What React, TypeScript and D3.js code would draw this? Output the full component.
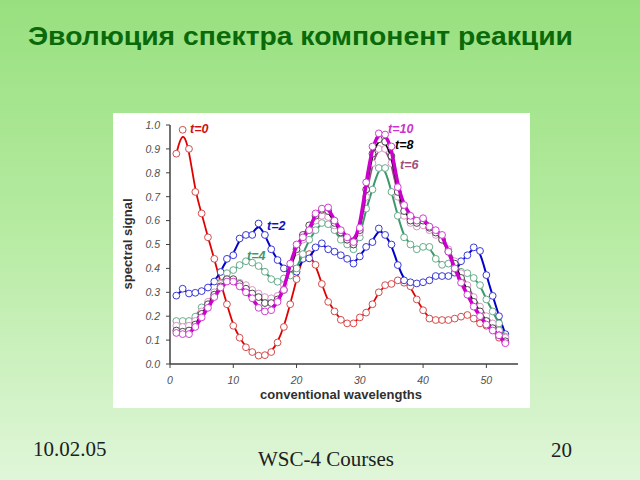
import React from "react";
import * as d3 from "d3";

const TITLE = "Эволюция спектра компонент реакции";
const FOOT_DATE = "10.02.05";
const FOOT_MID = "WSC-4 Courses";
const FOOT_PAGE = "20";
const X_LABEL = "conventional wavelengths";
const Y_LABEL = "spectral signal";

const wavelengths = d3.range(1, 54);
const yTicks = [0, 0.1, 0.2, 0.3, 0.4, 0.5, 0.6, 0.7, 0.8, 0.9, 1.0];
const xTicks = [0, 10, 20, 30, 40, 50];

const t0 = [0.88, 0.98, 0.90, 0.72, 0.63, 0.53, 0.44, 0.34, 0.25, 0.16, 0.11, 0.07, 0.05, 0.035, 0.037, 0.05, 0.09, 0.155, 0.25, 0.355, 0.45, 0.46, 0.415, 0.335, 0.26, 0.22, 0.185, 0.17, 0.17, 0.195, 0.215, 0.25, 0.30, 0.33, 0.335, 0.35, 0.34, 0.325, 0.27, 0.225, 0.19, 0.184, 0.184, 0.184, 0.19, 0.198, 0.205, 0.19, 0.17, 0.16, 0.145, 0.11, 0.09];
const t2 = [0.286, 0.315, 0.295, 0.298, 0.305, 0.32, 0.345, 0.385, 0.44, 0.455, 0.525, 0.54, 0.54, 0.588, 0.54, 0.48, 0.435, 0.40, 0.375, 0.386, 0.44, 0.442, 0.488, 0.505, 0.48, 0.47, 0.455, 0.44, 0.42, 0.45, 0.49, 0.51, 0.567, 0.54, 0.50, 0.414, 0.35, 0.342, 0.337, 0.342, 0.35, 0.368, 0.368, 0.368, 0.382, 0.43, 0.455, 0.488, 0.473, 0.372, 0.285, 0.20, 0.125];
const t4 = [0.18, 0.18, 0.18, 0.198, 0.237, 0.254, 0.29, 0.338, 0.38, 0.393, 0.414, 0.43, 0.424, 0.41, 0.386, 0.355, 0.344, 0.358, 0.37, 0.40, 0.46, 0.52, 0.56, 0.59, 0.585, 0.56, 0.52, 0.50, 0.48, 0.53, 0.65, 0.73, 0.82, 0.82, 0.72, 0.62, 0.53, 0.50, 0.48, 0.49, 0.49, 0.44, 0.415, 0.42, 0.40, 0.386, 0.38, 0.36, 0.33, 0.27, 0.22, 0.17, 0.114];
const t6 = [0.16, 0.155, 0.16, 0.18, 0.22, 0.26, 0.30, 0.335, 0.35, 0.35, 0.34, 0.33, 0.31, 0.295, 0.28, 0.275, 0.285, 0.33, 0.40, 0.47, 0.52, 0.56, 0.60, 0.62, 0.615, 0.58, 0.55, 0.52, 0.50, 0.55, 0.70, 0.84, 0.90, 0.90, 0.84, 0.70, 0.62, 0.59, 0.575, 0.58, 0.56, 0.54, 0.52, 0.48, 0.43, 0.38, 0.33, 0.28, 0.24, 0.20, 0.17, 0.14, 0.11];
const t8 = [0.14, 0.135, 0.14, 0.165, 0.21, 0.25, 0.29, 0.325, 0.355, 0.355, 0.335, 0.315, 0.295, 0.28, 0.255, 0.255, 0.27, 0.31, 0.40, 0.48, 0.54, 0.58, 0.62, 0.645, 0.64, 0.59, 0.55, 0.52, 0.50, 0.56, 0.73, 0.88, 0.94, 0.93, 0.87, 0.72, 0.64, 0.60, 0.59, 0.60, 0.57, 0.55, 0.52, 0.47, 0.42, 0.36, 0.31, 0.26, 0.22, 0.18, 0.15, 0.12, 0.095];
const t10 = [0.13, 0.125, 0.125, 0.155, 0.195, 0.235, 0.28, 0.32, 0.345, 0.345, 0.325, 0.30, 0.275, 0.235, 0.22, 0.225, 0.26, 0.31, 0.42, 0.50, 0.53, 0.56, 0.63, 0.65, 0.655, 0.60, 0.56, 0.53, 0.51, 0.57, 0.76, 0.91, 0.965, 0.96, 0.91, 0.74, 0.665, 0.62, 0.60, 0.61, 0.575, 0.56, 0.54, 0.47, 0.40, 0.34, 0.29, 0.24, 0.20, 0.165, 0.14, 0.12, 0.087];

const seriesNames = ["t=0", "t=2", "t=4", "t=6", "t=8", "t=10"];
const seriesValues = [t0, t2, t4, t6, t8, t10];

const styles = [
  { line: "#e00000", width: 1.8, dot: "#d44c4c", label: "#d01010", lx: 190, ly: 133 },
  { line: "#0000c8", width: 2, dot: "#3a3ad6", label: "#1010c0", lx: 267, ly: 230 },
  { line: "#3a9a6c", width: 2, dot: "#68ad8c", label: "#3a9a6c", lx: 247, ly: 260 },
  { line: "#9a4a80", width: 1.6, dot: "#dc94c6", label: "#a0507a", lx: 400, ly: 169 },
  { line: "#000000", width: 1.6, dot: "#4a4a4a", label: "#000000", lx: 395, ly: 149 },
  { line: "#cc00cc", width: 3.5, dot: "#d040d0", label: "#cc33cc", lx: 388, ly: 133 },
];

export default function App() {
  const x = d3.scaleLinear().domain([0, 55]).range([170, 518]);
  const y = d3.scaleLinear().domain([0, 1]).range([364, 125]);
  const line = d3
    .line<number>()
    .x((_, i) => x(wavelengths[i]))
    .y((d) => y(d))
    .curve(d3.curveBasis);

  const font = "'Liberation Sans', Arial, sans-serif";
  const serif = "'Liberation Serif', 'Times New Roman', serif";

  return (
    <svg
      width={640}
      height={480}
      style={{ position: "absolute", left: 0, top: 0 }}
      xmlns="http://www.w3.org/2000/svg"
    >
      <defs>
        <linearGradient id="bg" x1="0" y1="0" x2="0" y2="1">
          <stop offset="0%" stopColor="#98e07f" />
          <stop offset="45%" stopColor="#b4ea9f" />
          <stop offset="100%" stopColor="#e0f6d9" />
        </linearGradient>
      </defs>
      <rect x={0} y={0} width={640} height={480} fill="url(#bg)" />

      <text
        x={28}
        y={45}
        fontFamily={font}
        fontWeight="bold"
        fontSize={26}
        textLength={545}
        lengthAdjust="spacingAndGlyphs"
        fill="#0a6a0a"
      >
        {TITLE}
      </text>

      <rect x={113} y={113} width={417} height={295} fill="#ffffff" />

      {/* axes */}
      <line x1={170} x2={170} y1={y(1)} y2={y(0)} stroke="#404040" strokeWidth={1.5} />
      <line x1={170} x2={518} y1={y(0)} y2={y(0)} stroke="#404040" strokeWidth={1.5} />
      {yTicks.map((t) => (
        <g key={"y" + t}>
          <line x1={166} x2={170} y1={y(t)} y2={y(t)} stroke="#404040" strokeWidth={1} />
          <text
            x={160}
            y={y(t) + 3.8}
            textAnchor="end"
            fontFamily={font}
            fontStyle="italic"
            fontSize={10.5}
            fill="#505050"
          >
            {d3.format(".1f")(t)}
          </text>
        </g>
      ))}
      {xTicks.map((t) => (
        <g key={"x" + t}>
          <line x1={x(t)} x2={x(t)} y1={y(0)} y2={y(0) + 4} stroke="#404040" strokeWidth={1} />
          <text
            x={x(t)}
            y={384}
            textAnchor="middle"
            fontFamily={font}
            fontStyle="italic"
            fontSize={10.5}
            fill="#505050"
          >
            {t}
          </text>
        </g>
      ))}
      <text
        x={341}
        y={399}
        textAnchor="middle"
        fontFamily={font}
        fontWeight="bold"
        fontSize={13}
        fill="#303030"
      >
        {X_LABEL}
      </text>
      <text
        transform={`translate(132,244) rotate(-90)`}
        textAnchor="middle"
        fontFamily={font}
        fontWeight="bold"
        fontSize={13}
        fill="#303030"
      >
        {Y_LABEL}
      </text>

      {/* series */}
      {seriesValues.map((vals, si) => (
        <g key={seriesNames[si]}>
          <path
            d={line(vals) || ""}
            fill="none"
            stroke={styles[si].line}
            strokeWidth={styles[si].width}
          />
          {vals.map((v, i) => (
            <circle
              key={i}
              cx={x(wavelengths[i])}
              cy={y(v)}
              r={3.4}
              fill="#ffffff"
              stroke={styles[si].dot}
              strokeWidth={1}
            />
          ))}
        </g>
      ))}
      {seriesNames.map((n, si) => (
        <text
          key={"lbl" + n}
          x={styles[si].lx}
          y={styles[si].ly}
          fontFamily={font}
          fontStyle="italic"
          fontWeight="bold"
          fontSize={12.5}
          fill={styles[si].label}
        >
          {n}
        </text>
      ))}

      {/* footer */}
      <text x={33} y={456} fontFamily={serif} fontSize={21} fill="#202020">
        {FOOT_DATE}
      </text>
      <text x={326} y={466} textAnchor="middle" fontFamily={serif} fontSize={21} fill="#202020">
        {FOOT_MID}
      </text>
      <text x={572} y={457} textAnchor="end" fontFamily={serif} fontSize={21} fill="#202020">
        {FOOT_PAGE}
      </text>
    </svg>
  );
}
